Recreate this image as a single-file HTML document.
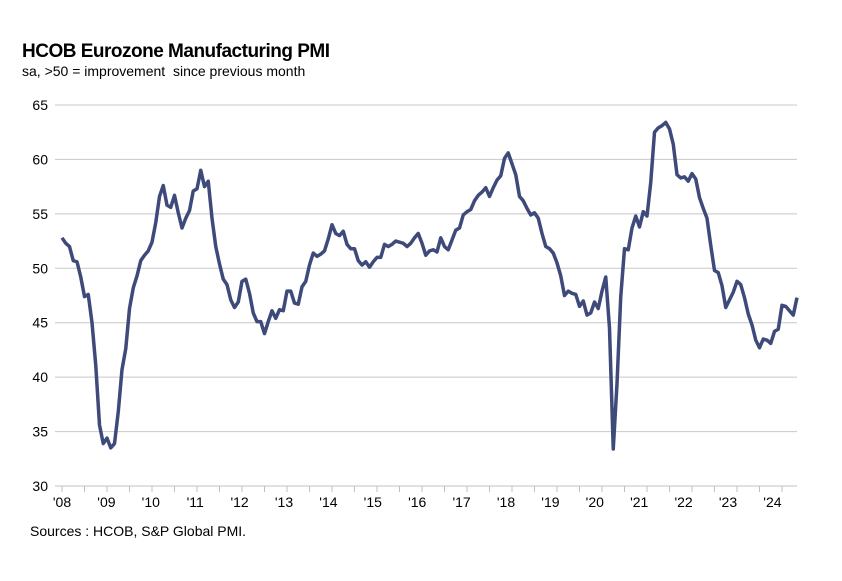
<!DOCTYPE html>
<html><head><meta charset="utf-8"><style>
body{margin:0;background:#fff;width:842px;height:576px;overflow:hidden;font-family:"Liberation Sans",Arial,sans-serif}
</style></head><body>
<svg width="842" height="576" xmlns="http://www.w3.org/2000/svg">
<text x="22" y="57" font-size="19" font-weight="bold" fill="#000" letter-spacing="-0.5">HCOB Eurozone Manufacturing PMI</text>
<text x="22" y="76" font-size="14" fill="#000">sa, &gt;50 = improvement &#160;since previous month</text>
<text x="30" y="536" font-size="14" fill="#000">Sources : HCOB, S&amp;P Global PMI.</text>
<g id="grid"></g><g id="yl"></g><g id="xa"></g><g id="ln"></g>
</svg>
<script>
const yTicks=[30,35,40,45,50,55,60,65];
const yearLabels=["'08","'09","'10","'11","'12","'13","'14","'15","'16","'17","'18","'19","'20","'21","'22","'23","'24"];
const startYear=2008;
const pmi=[52.8,52.3,52.0,50.7,50.6,49.2,47.4,47.6,45.0,41.1,35.6,33.9,
34.4,33.5,33.9,36.8,40.7,42.6,46.3,48.2,49.3,50.7,51.2,51.6,
52.4,54.2,56.6,57.6,55.8,55.6,56.7,55.1,53.7,54.6,55.3,57.1,
57.3,59.0,57.5,58.0,54.6,52.0,50.4,49.0,48.5,47.1,46.4,46.9,
48.8,49.0,47.7,45.9,45.1,45.1,44.0,45.1,46.1,45.4,46.2,46.1,
47.9,47.9,46.8,46.7,48.3,48.8,50.3,51.4,51.1,51.3,51.6,52.7,
54.0,53.2,53.0,53.4,52.2,51.8,51.8,50.7,50.3,50.6,50.1,50.6,
51.0,51.0,52.2,52.0,52.2,52.5,52.4,52.3,52.0,52.3,52.8,53.2,
52.3,51.2,51.6,51.7,51.5,52.8,52.0,51.7,52.6,53.5,53.7,54.9,
55.2,55.4,56.2,56.7,57.0,57.4,56.6,57.4,58.1,58.5,60.1,60.6,
59.6,58.6,56.6,56.2,55.5,54.9,55.1,54.6,53.2,52.0,51.8,51.4,
50.5,49.3,47.5,47.9,47.7,47.6,46.5,47.0,45.7,45.9,46.9,46.3,
47.9,49.2,44.5,33.4,39.4,47.4,51.8,51.7,53.7,54.8,53.8,55.2,
54.8,57.9,62.5,62.9,63.1,63.4,62.8,61.4,58.6,58.3,58.4,58.0,
58.7,58.2,56.5,55.5,54.6,52.1,49.8,49.6,48.4,46.4,47.1,47.8,
48.8,48.5,47.3,45.8,44.8,43.4,42.7,43.5,43.4,43.1,44.2,44.4,
46.6,46.5,46.1,45.7,47.3];
const NS="http://www.w3.org/2000/svg";
const X0=62,STEP=(797-62)/196,XL=55,XR=797;
function x(i){return X0+i*STEP;}
function y(v){return 486-(v-30)*(381/35);}
function mk(tag,attrs,parent){const e=document.createElementNS(NS,tag);for(const k in attrs)e.setAttribute(k,attrs[k]);document.getElementById(parent).appendChild(e);return e;}
yTicks.forEach(t=>{
  if(t>30){const g=mk('line',{x1:XL,x2:XR,y1:y(t),y2:y(t),stroke:'#c8c8c8','stroke-width':1},'grid');
  
  }
  const l=mk('text',{x:48,y:y(t)+5,'font-size':14,'text-anchor':'end',fill:'#000'},'yl');
  l.textContent=t;
  
  
});
const ax=mk('line',{x1:XL,x2:XR,y1:486,y2:486,stroke:'#c0c0c0','stroke-width':1},'xa');


for(let m=0;m<=pmi.length+6;m+=6){const xx=x(m);if(xx>XR+1)break;
  const tk=mk('line',{x1:xx,x2:xx,y1:486,y2:492,stroke:'#c0c0c0','stroke-width':1},'xa');
  
  }
yearLabels.forEach((lb,k)=>{
  const t=mk('text',{x:x(k*12)-k*0.6,y:507,'font-size':14,'text-anchor':'middle',fill:'#000'},'xa');
  t.textContent=lb;
  
  
});
const p=mk('polyline',{points:pmi.map((v,i)=>x(i)+','+y(v)).join(' '),fill:'none',stroke:'#3d4a7a','stroke-width':3.5,'stroke-linejoin':'round'},'ln');


</script>
</body></html>
